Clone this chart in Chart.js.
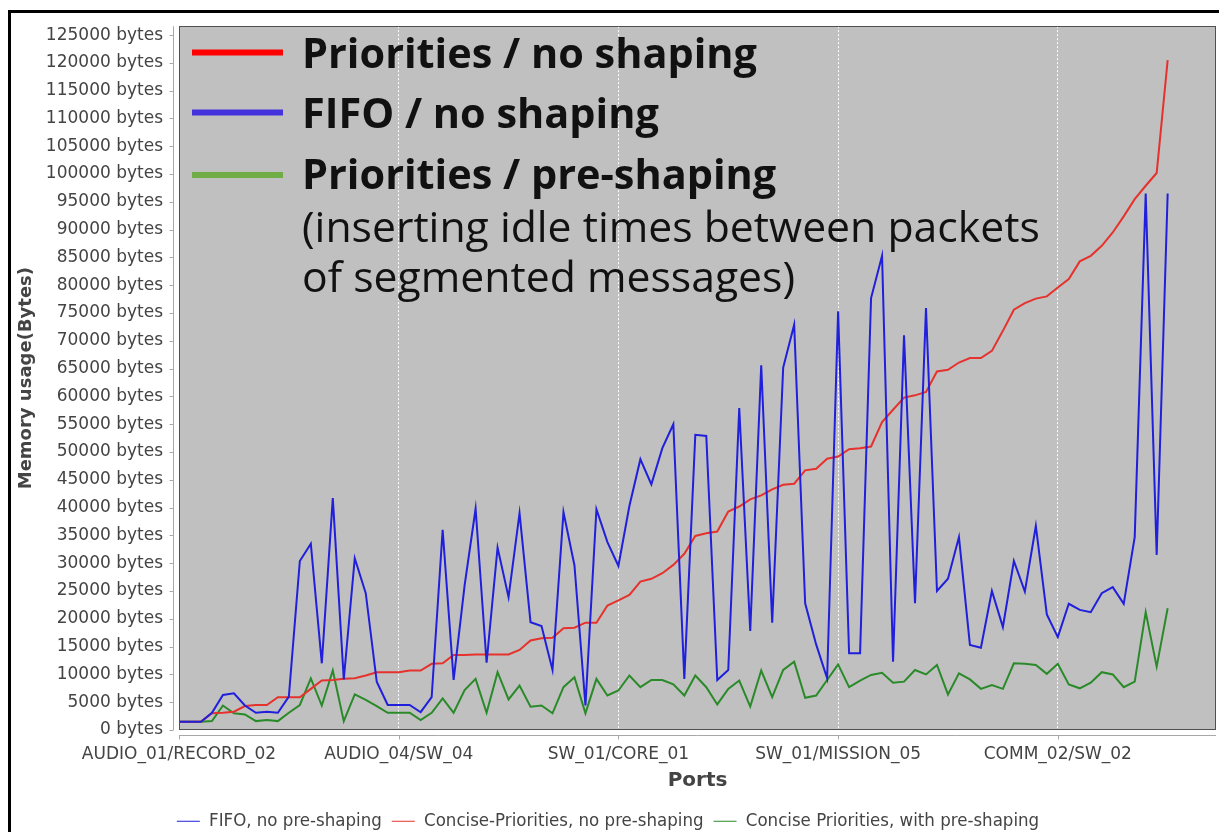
<!DOCTYPE html>
<html>
<head>
<meta charset="utf-8">
<script src="https://cdn.jsdelivr.net/npm/chart.js@4"></script>
<style>
  html, body { margin: 0; padding: 0; background: #fff; }
  #wrap { width: 1219px; height: 832px; position: relative; }
</style>
</head>
<body>
<div id="wrap"><canvas id="c"></canvas></div>
<script>
// ---- data ----
const portTickLabels = ["AUDIO_01/RECORD_02", "AUDIO_04/SW_04", "SW_01/CORE_01", "SW_01/MISSION_05", "COMM_02/SW_02"];
const seriesNames = ["FIFO, no pre-shaping", "Concise-Priorities, no pre-shaping", "Concise Priorities, with pre-shaping"];
const yTickStep = 5000;
const yTickTop = 125000;

const fifoNoShaping = [
  1500, 1500, 1500, 3100, 6300, 6600, 4400, 3100, 3300, 3100,
  6000, 30400, 33500, 12000, 41700, 9100, 30900, 24600, 8700, 4500,
  4500, 4500, 3200, 5900, 36000, 9000, 26000, 39800, 12100, 32800,
  23900, 39000, 19400, 18700, 10800, 39200, 29600, 4400, 39700, 33800,
  29500, 40300, 48700, 44200, 50700, 55000, 9200, 53100, 52900, 9000,
  10800, 57900, 17800, 65600, 19300, 65200, 72900, 22800, 15400, 9300,
  75300, 13800, 13800, 77700, 85300, 12300, 71000, 22800, 75900, 25000,
  27200, 34700, 15300, 14800, 25000, 18500, 30400, 24900, 36700, 20800,
  16700, 22700, 21600, 21200, 24600, 25700, 22700, 34700, 96500, 31500,
  96500
];
const prioritiesNoShaping = [
  1500, 1500, 1500, 3000, 3100, 3300, 4300, 4500, 4500, 5900,
  5900, 5900, 7400, 8900, 9000, 9200, 9300, 9800, 10400, 10400,
  10400, 10700, 10700, 11900, 12000, 13500, 13500, 13600, 13600, 13600,
  13600, 14400, 16100, 16500, 16600, 18300, 18400, 19300, 19300, 22400,
  23300, 24300, 26700, 27200, 28200, 29700, 31700, 34900, 35400, 35700,
  39300, 40200, 41500, 42200, 43300, 44100, 44300, 46700, 47000, 48800,
  49200, 50500, 50700, 51000, 55400, 57600, 59800, 60200, 60800, 64500,
  64800, 66100, 66900, 66900, 68200, 71800, 75600, 76800, 77600, 78000,
  79600, 81100, 84300, 85300, 87100, 89500, 92400, 95500, 97900, 100200,
  120500
];
const prioritiesPreShaping = [
  1500, 1500, 1500, 1600, 4400, 3000, 2800, 1600, 1800, 1600,
  3100, 4500, 9300, 4400, 10700, 1600, 6400, 5400, 4300, 3100,
  3100, 3100, 1800, 3100, 5700, 3100, 7200, 9200, 3100, 10400,
  5500, 8000, 4200, 4400, 3000, 7700, 9500, 3000, 9200, 6200,
  7100, 9800, 7700, 9000, 9000, 8200, 6200, 9800, 7700, 4600,
  7400, 8900, 4200, 10700, 5900, 10800, 12300, 5800, 6200, 9000,
  11800, 7700, 8900, 9900, 10300, 8500, 8700, 10800, 10000, 11700,
  6400, 10200, 9100, 7400, 8100, 7400, 12000, 11900, 11700, 10100,
  11900, 8200, 7500, 8500, 10400, 10000, 7700, 8700, 21200, 11400,
  21900
];

// overlay annotation text
const overlayBold = ["Priorities / no shaping", "FIFO / no shaping", "Priorities / pre-shaping"];
const overlayNote = ["(inserting idle times between packets", "of segmented messages)"];
const overlaySwatches = ["#ff0000", "#4433dd", "#70ad47"];

// port index used as x position (one entry per port)
const portIndex = fifoNoShaping.map((_, i) => i);

const AXIS_FONT = "'DejaVu Sans', Tahoma, sans-serif";
const LEGEND_FONT = "'DejaVu Sans Condensed', 'Liberation Sans Narrow', 'DejaVu Sans', sans-serif";

const framePlugin = {
  id: 'framePlugin',
  beforeDraw(chart) {
    const {ctx, chartArea: a} = chart;
    ctx.save();
    ctx.fillStyle = '#ffffff';
    ctx.fillRect(0, 0, chart.width, chart.height);
    // outer black frame (top + left)
    ctx.fillStyle = '#000000';
    ctx.fillRect(8, 10, chart.width - 8, 3);
    ctx.fillRect(8, 10, 3, chart.height - 10);
    // plot background
    ctx.fillStyle = '#c0c0c0';
    ctx.fillRect(a.left, a.top, a.right - a.left, a.bottom - a.top);
    // offset axis lines with tick marks
    const ys = chart.scales.y, xs = chart.scales.x;
    ctx.strokeStyle = '#a8a8a8';
    ctx.lineWidth = 1;
    ctx.beginPath();
    const ax = Math.round(a.left - 6) + 0.5;
    ctx.moveTo(ax, a.top); ctx.lineTo(ax, a.bottom);
    ys.ticks.forEach(t => {
      const py = Math.round(ys.getPixelForValue(t.value)) + 0.5;
      ctx.moveTo(ax - 4, py); ctx.lineTo(ax, py);
    });
    const ay = Math.round(a.bottom + 5) + 0.5;
    ctx.moveTo(a.left, ay); ctx.lineTo(a.right, ay);
    xs.ticks.forEach(t => {
      const px = Math.round(xs.getPixelForValue(t.value)) + 0.5;
      ctx.moveTo(px, ay); ctx.lineTo(px, ay + 4);
    });
    ctx.stroke();
    ctx.restore();
  },
  afterDatasetsDraw(chart) {
    const {ctx, chartArea: a} = chart;
    ctx.save();
    ctx.strokeStyle = '#505050';
    ctx.lineWidth = 1;
    ctx.strokeRect(Math.round(a.left) + 0.5, Math.round(a.top) + 0.5,
                   Math.round(a.right - a.left) - 1, Math.round(a.bottom - a.top) - 1);
    ctx.restore();
  },
  afterDraw(chart) {
    const ctx = chart.ctx;
    ctx.save();
    // swatches
    const swY = [52.5, 112.5, 175];
    overlaySwatches.forEach((c, i) => {
      ctx.fillStyle = c;
      ctx.fillRect(192, swY[i] - 3, 91, 6);
    });
    ctx.fillStyle = '#111111';
    ctx.textBaseline = 'alphabetic';
    ctx.textAlign = 'left';
    // bold lines, fitted to reference width
    ctx.font = "bold 40px 'Open Sans', 'Noto Sans', sans-serif";
    const bw = ctx.measureText(overlayBold[0]).width;
    const bSize = 40 * 455 / bw;
    ctx.font = "bold " + bSize.toFixed(2) + "px 'Open Sans', 'Noto Sans', sans-serif";
    const bBase = [68, 128, 189];
    overlayBold.forEach((t, i) => ctx.fillText(t, 302, bBase[i]));
    ctx.font = "40px 'Open Sans', 'Noto Sans', sans-serif";
    const rw = ctx.measureText(overlayNote[0]).width;
    const rSize = 40 * 738 / rw;
    ctx.font = rSize.toFixed(2) + "px 'Open Sans', 'Noto Sans', sans-serif";
    const rBase = [242, 292];
    overlayNote.forEach((t, i) => ctx.fillText(t, 302, rBase[i]));
    ctx.restore();
  }
};

const PAD_LEFT = 0, PAD_RIGHT = 3, PAD_TOP = 19.5;
const AREA_LEFT = 179, AREA_BOTTOM = 730;

new Chart(document.getElementById('c'), {
  type: 'line',
  data: {
    labels: portIndex,
    datasets: [
      { label: seriesNames[0], data: fifoNoShaping, borderColor: '#1f1fdc', backgroundColor: '#1f1fdc' },
      { label: seriesNames[1], data: prioritiesNoShaping, borderColor: '#e5322d', backgroundColor: '#e5322d' },
      { label: seriesNames[2], data: prioritiesPreShaping, borderColor: '#2a8a2a', backgroundColor: '#2a8a2a' }
    ]
  },
  options: {
    responsive: true,
    maintainAspectRatio: false,
    animation: false,
    layout: { padding: { left: PAD_LEFT, right: PAD_RIGHT, top: PAD_TOP, bottom: 0 } },
    elements: {
      line: { borderWidth: 2, tension: 0, fill: false },
      point: { radius: 0, hoverRadius: 0 }
    },
    plugins: {
      tooltip: { enabled: false },
      legend: {
        display: true,
        position: 'bottom',
        maxHeight: 30,
        labels: {
          usePointStyle: true,
          pointStyle: 'line',
          pointStyleWidth: 23,
          padding: 10,
          color: '#444444',
          font: { family: LEGEND_FONT, size: 18.5 }
        }
      }
    },
    scales: {
      x: {
        type: 'linear',
        min: 0,
        max: 94.4,
        afterFit(s) {
          const lh = s.chart.legend ? s.chart.legend.height : 0;
          s.height = s.chart.height - lh - AREA_BOTTOM;
        },
        grid: {
          drawTicks: false,
          color: ctx => (ctx.tick && ctx.tick.value > 0) ? '#ffffff' : 'rgba(0,0,0,0)',
          lineWidth: 1
        },
        border: { display: false, dash: [2, 2] },
        ticks: {
          stepSize: 20,
          includeBounds: false,
          autoSkip: false,
          maxRotation: 0,
          padding: 14,
          color: '#444444',
          font: { family: AXIS_FONT, size: 17 },
          callback: v => portTickLabels[v / 20] || ''
        },
        title: {
          display: true,
          text: 'Ports',
          color: '#444444',
          font: { family: AXIS_FONT, size: 20, weight: 'bold' },
          padding: { top: 4, bottom: 9 }
        }
      },
      y: {
        type: 'linear',
        min: 0,
        max: 126600,
        afterFit(s) { s.width = AREA_LEFT - PAD_LEFT; },
        afterBuildTicks(s) {
          const t = [];
          for (let v = 0; v <= yTickTop; v += yTickStep) t.push({ value: v });
          s.ticks = t;
        },
        grid: { display: false, drawTicks: false },
        border: { display: false },
        ticks: {
          autoSkip: false,
          padding: 16,
          color: '#444444',
          font: { family: AXIS_FONT, size: 17 },
          callback: v => v + ' bytes'
        },
        title: {
          display: true,
          text: 'Memory usage(Bytes)',
          color: '#444444',
          font: { family: AXIS_FONT, size: 18, weight: 'bold' },
          padding: { top: 16, bottom: 0 }
        }
      }
    }
  },
  plugins: [framePlugin]
});
</script>
</body>
</html>
